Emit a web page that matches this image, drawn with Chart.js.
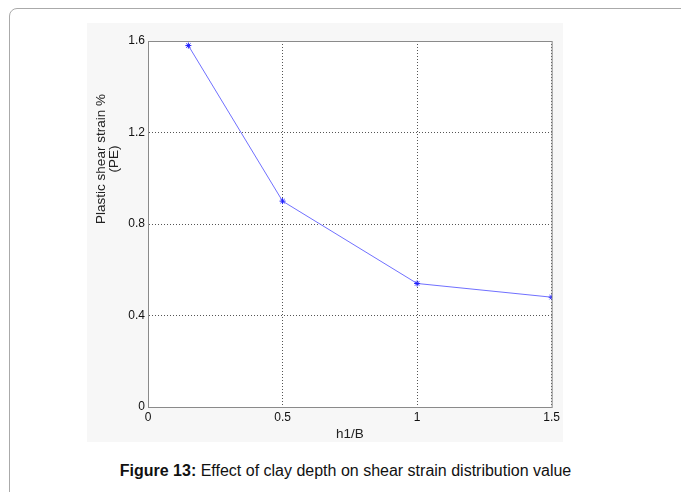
<!DOCTYPE html>
<html>
<head>
<meta charset="utf-8">
<script src="https://cdn.jsdelivr.net/npm/chart.js@4/dist/chart.umd.min.js"></script>
<style>
    body { margin: 0; background: #fff; font-family: "Liberation Sans", Arial, sans-serif; }
    #frame { position: absolute; left: 9px; top: 8px; width: 700px; height: 520px; border: 1px solid #aaa; border-radius: 8px; }
    #panel { position: absolute; left: 87px; top: 23px; width: 476px; height: 419px; background: #f7f7f7; }
    #caption { position: absolute; left: 0; width: 691px; top: 462px; text-align: center; font-size: 16px; color: #111; }
</style>
</head>
<body>
<div id="frame"></div>
<div id="panel"><canvas id="chart" width="476" height="419"></canvas></div>
<div id="caption"><b>Figure 13:</b> Effect of clay depth on shear strain distribution value</div>
<script>
var depthRatio = [0.15, 0.5, 1, 1.5];
var shearStrain = [1.58, 0.9, 0.54, 0.48];
var xTicks = [0, 0.5, 1, 1.5];
var yTicks = [0, 0.4, 0.8, 1.2, 1.6];
var yTitle = ['Plastic shear strain %', '(PE)'];

var points = [];
depthRatio.forEach(function(x, i) {
    points.push({ x: x, y: shearStrain[i] });
});

// white plot area, box round it and the y label (matlab puts it off centre)
var boxPlugin = {
    id: 'box',
    beforeDraw: function(chart) {
        var a = chart.chartArea, ctx = chart.ctx;
        ctx.save();
        ctx.fillStyle = '#fff';
        ctx.fillRect(a.left, a.top, a.right - a.left, a.bottom - a.top);
        ctx.restore();
    },
    afterDraw: function(chart) {
        var a = chart.chartArea, ctx = chart.ctx;
        ctx.save();
        ctx.strokeStyle = '#8a8a8a';
        ctx.lineWidth = 1;
        ctx.strokeRect(a.left + 0.5, a.top + 0.5, a.right - a.left, a.bottom - a.top);

        ctx.translate(20, 136);
        ctx.rotate(-Math.PI / 2);
        ctx.fillStyle = '#222';
        ctx.font = '13.5px "Liberation Sans", Arial';
        ctx.textAlign = 'center';
        ctx.textBaseline = 'middle';
        ctx.fillText(yTitle[0], 0, -6);
        ctx.fillText(yTitle[1], 0, 7);
        ctx.restore();
    }
};

var grid = {
    color: '#555',
    lineWidth: 1,
    drawTicks: false
};

var tickFont = { size: 12, family: 'Liberation Sans' };

new Chart(document.getElementById('chart').getContext('2d'), {
    type: 'line',
    data: {
        datasets: [{
            data: points,
            borderColor: '#7070ff',
            borderWidth: 1,
            pointStyle: 'star',
            pointRadius: 3,
            pointBorderColor: '#2020ff',
            pointBorderWidth: 1,
            tension: 0,
            fill: false
        }]
    },
    options: {
        responsive: false,
        animation: false,
        layout: { padding: { top: 18, right: 11, left: 0, bottom: 0 } },
        plugins: { legend: { display: false }, tooltip: { enabled: false } },
        scales: {
            x: {
                type: 'linear',
                min: 0,
                max: 1.5,
                afterBuildTicks: function(s) { s.ticks = xTicks.map(function(v) { return { value: v }; }); },
                afterFit: function(s) { s.height = 35; },
                grid: grid,
                border: { display: true, color: '#8a8a8a', dash: [1, 2] },
                ticks: { color: '#111', font: tickFont, padding: 3, maxRotation: 0, callback: function(v) { return String(v); } },
                title: { display: true, text: 'h1/B', color: '#222', font: { size: 13.5, family: 'Liberation Sans' }, padding: 0 }
            },
            y: {
                min: 0,
                max: 1.6,
                afterBuildTicks: function(s) { s.ticks = yTicks.map(function(v) { return { value: v }; }); },
                afterFit: function(s) { s.width = 61; },
                grid: grid,
                border: { display: true, color: '#8a8a8a', dash: [1, 2] },
                ticks: { color: '#111', font: tickFont, padding: 3, callback: function(v) { return String(v); } }
            }
        }
    },
    plugins: [boxPlugin]
});
</script>
</body>
</html>
